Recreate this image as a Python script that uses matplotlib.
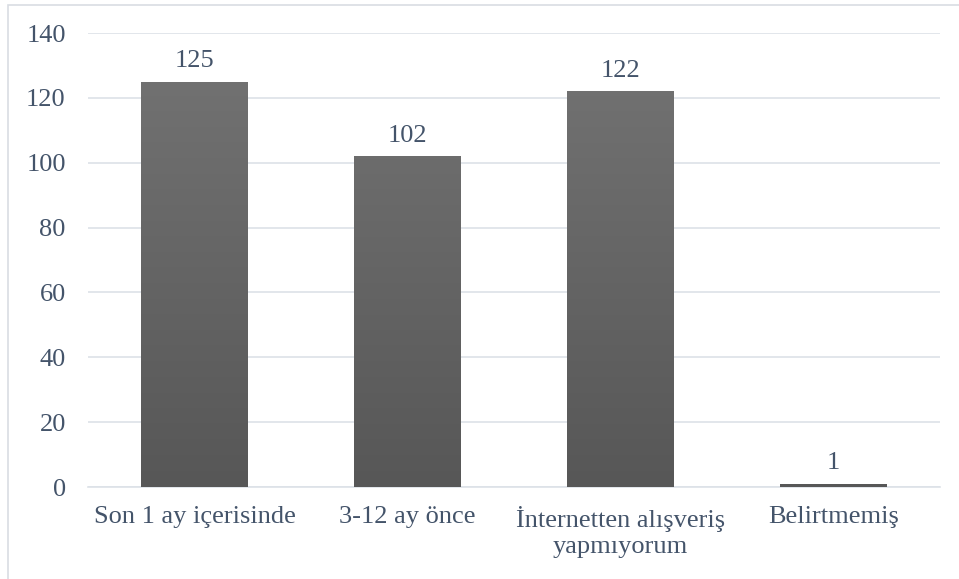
import matplotlib.pyplot as plt
import numpy as np
from matplotlib.patches import Rectangle
from matplotlib.colors import LinearSegmentedColormap

categories = ["Son 1 ay içerisinde", "3-12 ay önce", "İnternetten alışveriş\nyapmıyorum", "Belirtmemiş"]
values = [125, 102, 122, 1]
yticks = [0, 20, 40, 60, 80, 100, 120, 140]

text_color = "#44546a"
grid_color = "#dde2e8"

plt.rcParams['font.family'] = ['Liberation Serif', 'DejaVu Serif']

fig = plt.figure(figsize=(9.59, 5.79), dpi=100)
ax = fig.add_axes([88 / 959, 1 - 487 / 579, 852 / 959, 454 / 579])

# light frame around the chart
fig.patches.append(Rectangle((8 / 959, -0.05), 1.2, 1 - 5 / 579 + 0.05,
                             transform=fig.transFigure, fill=False,
                             edgecolor="#d9dde3", linewidth=1.2))

x = np.arange(len(categories))
bars = ax.bar(x, values, width=0.5, color="#666666", zorder=2)

# vertical grey gradient inside each bar
cmap = LinearSegmentedColormap.from_list("bar_grey", ["#575757", "#747474"])
grad = np.linspace(0, 1, 256).reshape(-1, 1)
for b in bars:
    x0, w = b.get_x(), b.get_width()
    im = ax.imshow(grad, cmap=cmap, aspect="auto", origin="lower",
                   extent=[x0, x0 + w, 0, 140], zorder=3)
    im.set_clip_path(b)

for xi, v in zip(x, values):
    ax.annotate(str(v), (xi, v), xytext=(0, 7), textcoords="offset points",
                ha="center", va="bottom", fontsize=19, color=text_color)

ax.set_xlim(-0.5, len(categories) - 0.5)
ax.set_ylim(0, 140)
ax.set_yticks(yticks)
ax.set_xticks(x)
ax.set_xticklabels(categories, fontsize=19, color=text_color, linespacing=1.2)
ax.tick_params(axis="y", labelsize=19, labelcolor=text_color, length=0, pad=16)
ax.tick_params(axis="x", length=0, pad=14)
ax.grid(axis="y", color=grid_color, linewidth=1.2, zorder=0)
for s in ["top", "right", "left"]:
    ax.spines[s].set_visible(False)
ax.spines["bottom"].set_color(grid_color)
ax.spines["bottom"].set_linewidth(1.2)

fig.savefig("out.png", dpi=100)
